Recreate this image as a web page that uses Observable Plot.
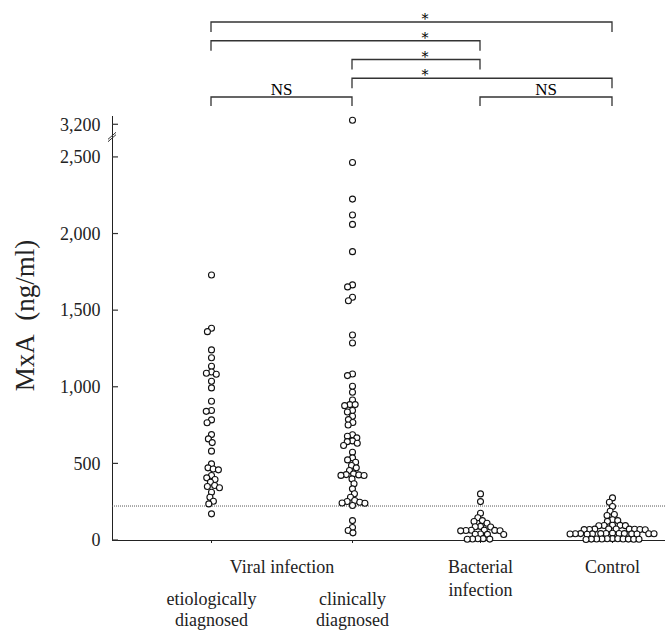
<!DOCTYPE html>
<html><head><meta charset="utf-8">
<script src="https://cdn.jsdelivr.net/npm/d3@7"></script>
<script src="https://cdn.jsdelivr.net/npm/@observablehq/plot@0.6"></script>
<style>
html,body{margin:0;padding:0;background:#fff;}
</style>
</head><body>
<div id="chart"></div>
<script>
// ---- data ----
const groups = ["etiologically diagnosed", "clinically diagnosed", "Bacterial infection", "Control"];
const etiological = [1733, 1385, 1363, 1244, 1193, 1137, 1100, 1091, 1085, 1039, 996, 909, 848, 843, 787, 768, 691, 663, 639, 583, 500, 474, 467, 461, 424, 409, 398, 380, 359, 352, 344, 315, 282, 256, 239, 174];
const clinical = [3230, 2467, 2228, 2124, 2063, 1885, 1668, 1655, 1587, 1565, 1341, 1289, 1087, 1076, 1007, 967, 917, 887, 887, 880, 848, 839, 811, 789, 770, 754, 690, 680, 670, 650, 645, 635, 620, 576, 539, 526, 511, 489, 474, 457, 435, 430, 428, 425, 424, 402, 370, 337, 305, 282, 261, 255, 250, 245, 243, 228, 130, 85, 65, 50];
const bacterial = [304, 254, 178, 148, 130, 124, 113, 92, 90, 88, 68, 67, 66, 65, 64, 63, 42, 41, 40, 39, 12, 11, 10, 9, 8];
const control = [278, 250, 222, 191, 170, 163, 135, 130, 125, 100, 99, 98, 97, 96, 76, 75, 74, 74, 73, 72, 72, 71, 70, 47, 46, 46, 45, 45, 45, 44, 44, 44, 43, 43, 42, 42, 41, 12, 11, 11, 10, 10, 10, 9, 9, 8, 8, 7];
const seriesValues = [etiological, clinical, bacterial, control];
const yTicks = [0, 500, 1000, 1500, 2000, 2500, 3200];
const cutoff = 225;
const yLabel = "MxA\u00a0\u00a0(ng/ml)";
const topLabels = [
  {text: "Viral infection", span: [0, 1]},
  {text: "Bacterial\ninfection", span: [2, 2]},
  {text: "Control", span: [3, 3]}
];
const subLabels = [
  {text: "etiologically\ndiagnosed", span: [0, 0]},
  {text: "clinically\ndiagnosed", span: [1, 1]}
];
const brackets = [
  {from: 0, to: 3, label: "*", level: 0},
  {from: 0, to: 2, label: "*", level: 1},
  {from: 1, to: 2, label: "*", level: 2},
  {from: 1, to: 3, label: "*", level: 3},
  {from: 0, to: 1, label: "NS", level: 4},
  {from: 2, to: 3, label: "NS", level: 4}
];

// ---- scales ----
const W = 665, H = 631, mL = 112, mR = 0, mT = 116, mB = 91;
const xDomain = [-1, 0, 1, 2, 3, 4];
const xRange = [mL, 211, 352, 480, 612, W - mR];
const breakLow = 2630, breakHigh = 3117, yTop = 3254;
const yDomain = [0, breakLow, breakHigh, yTop];
const yRange = [H - mB, 137, 137, mT];
const xs = d3.scaleLinear(xDomain, xRange);
const ys = d3.scaleLinear(yDomain, yRange);

// ---- beeswarm layout (pixel collision, converted back to data x) ----
const R = 3, D = 5.3;
function swarm(values, g) {
  const sorted = values.slice().sort((a, b) => b - a);
  const placed = [];
  const out = [];
  for (const v of sorted) {
    const py = ys(v);
    const near = placed.filter(p => Math.abs(p.y - py) < D);
    const cands = [0];
    for (const p of near) {
      const dx = Math.sqrt(D * D - (p.y - py) ** 2);
      cands.push(p.x + dx, p.x - dx);
    }
    cands.sort((a, b) => Math.abs(a) - Math.abs(b) || a - b);
    let best = 0;
    for (const c of cands) {
      if (near.every(p => (p.x - c) ** 2 + (p.y - py) ** 2 >= D * D - 1e-6)) { best = c; break; }
    }
    placed.push({x: best, y: py});
    out.push({group: groups[g], gi: g, value: v, x: xs.invert(xs(g) + best)});
  }
  return out;
}
const points = seriesValues.flatMap((vals, g) => swarm(vals, g));

const spanX = d => (d.span[0] + d.span[1]) / 2;

function decorations(index, scales) {
  const g = d3.create("svg:g").attr("fill", "none").attr("stroke", "#333");
  const ax = scales.x(-1);
  // inward y ticks
  for (const t of yTicks) {
    const y = scales.y(t);
    g.append("path").attr("d", `M${ax},${y}h6`).attr("stroke-width", 1.2);
  }
  // axis break marks
  const by = scales.y(breakLow);
  for (const off of [-1.2, 1.2]) {
    g.append("path").attr("d", `M${ax - 4},${by + 3.5 + off}L${ax + 4},${by - 3.5 + off}`).attr("stroke-width", 1);
  }
  // significance brackets; all asterisks share one column as in the source figure
  const starX = scales.x(1.57);
  for (const b of brackets) {
    const x1 = scales.x(b.from), x2 = scales.x(b.to);
    const y = 22 + b.level * 18.75;
    const leg = b.label === "NS" ? 9 : 10;
    const isNS = b.label === "NS";
    g.append("path")
      .attr("d", `M${x1},${y + leg}V${y}H${x2}V${y + leg}`)
      .attr("stroke-width", 1.3);
    g.append("text")
      .attr("x", isNS ? (x1 + x2) / 2 : starX)
      .attr("y", isNS ? y - 2.5 : y + 2)
      .attr("text-anchor", "middle")
      .attr("fill", "#000").attr("stroke", "none")
      .attr("font-family", isNS ? "'Liberation Serif', 'Times New Roman', serif" : "'DejaVu Serif', serif")
      .attr("font-size", isNS ? 17 : 14)
      .text(b.label);
  }
  return g.node();
}

const chart = Plot.plot({
  width: W, height: H,
  marginLeft: mL, marginRight: mR, marginTop: mT, marginBottom: mB,
  style: {fontFamily: "'Liberation Serif', 'Times New Roman', serif", fontSize: "18px", color: "#222", background: "white", overflow: "visible"},
  x: {type: "linear", domain: xDomain, range: xRange, ticks: [0, 1, 2, 3], tickFormat: () => "", tickSize: 3, line: true, label: null},
  y: {type: "linear", domain: yDomain, range: yRange, ticks: yTicks, tickFormat: d3.format(","), tickSize: 0, tickPadding: 12, line: true, label: null},
  marks: [
    Plot.ruleY([cutoff], {stroke: "#555", strokeWidth: 1, strokeDasharray: "1,1"}),
    Plot.dot(points, {x: "x", y: "value", r: R, fill: "white", stroke: "#111", strokeWidth: 1.1}),
    Plot.text(topLabels, {x: spanX, y: 0, text: "text", dy: 17, lineAnchor: "top", fontSize: 18, lineHeight: 1.25, fill: "#222"}),
    Plot.text(subLabels, {x: spanX, y: 0, text: "text", dy: 50, lineAnchor: "top", fontSize: 18, lineHeight: 1.15, fill: "#222"}),
    Plot.text([yLabel], {frameAnchor: "left", textAnchor: "middle", rotate: -90, dx: -87, dy: -13, fontSize: 27, fill: "#222"}),
    decorations
  ]
});
document.getElementById("chart").appendChild(chart);
</script>
</body></html>
